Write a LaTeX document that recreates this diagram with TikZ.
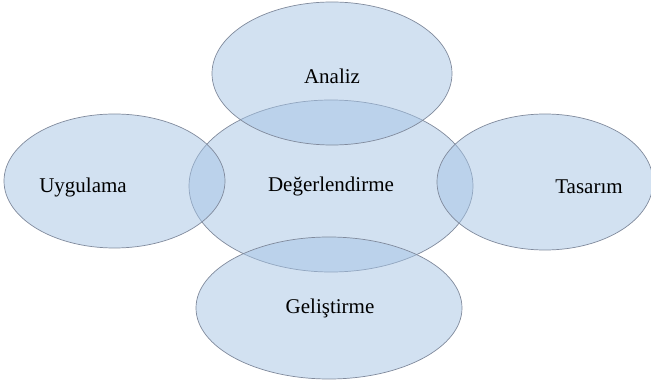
\documentclass[tikz,border=0pt]{standalone}
\usepackage{fontspec}
\setmainfont{Liberation Serif}
\usetikzlibrary{shapes.geometric,positioning}
\definecolor{phasefill}{RGB}{165,195,228}
\definecolor{phaseline}{RGB}{128,138,156}
\tikzset{
  phase/.style={ellipse, draw=phaseline, line width=0.7pt, fill=phasefill, fill opacity=0.5, draw opacity=1, inner sep=0pt},
  phasetext/.style={font=\fontsize{21}{24}\selectfont, text=black}
}

\begin{document}
\begin{tikzpicture}[x=1pt,y=-1pt]
    \useasboundingbox (0,0) rectangle (651,382);
    % ellipses
    \node[phase, minimum width=284pt, minimum height=172pt] (deg) at (331,186) {};
    \node[phase, minimum width=240pt, minimum height=143pt] (analiz) at (332,73.5) {};
    \node[phase, minimum width=221pt, minimum height=134pt] (uyg) at (114.5,181) {};
    \node[phase, minimum width=216pt, minimum height=136pt] (tas) at (545,182) {};
    \node[phase, minimum width=266pt, minimum height=142pt] (gel) at (329,308) {};
    % labels
    \node[phasetext] (degtxt) at (331,186) {Değerlendirme};
    \node[phasetext] (analiztxt) at (332,76) {Analiz};
    \node[phasetext] (uygtxt) at (83,187) {Uygulama};
    \node[phasetext] (tastxt) at (589,187) {Tasarım};
    \node[phasetext] (geltxt) at (330,308) {Geliştirme};
\end{tikzpicture}
\end{document}
